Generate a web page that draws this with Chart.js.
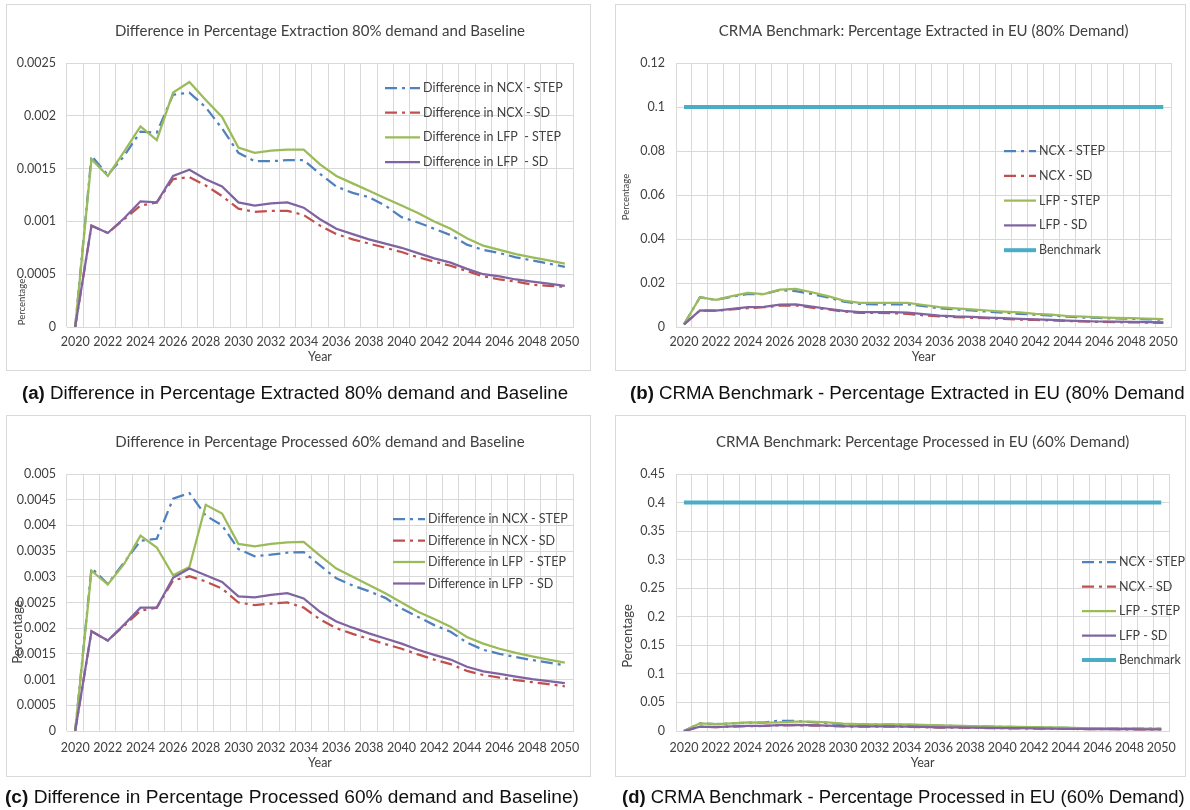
<!DOCTYPE html>
<html>
<head>
<meta charset="utf-8">
<script src="https://cdn.jsdelivr.net/npm/chart.js@4.4.0/dist/chart.umd.min.js"></script>
<style>
  body { margin: 0; background: #fff; width: 1190px; height: 810px; position: relative; overflow: hidden; }
  canvas { position: absolute; outline: 1px solid #d9d9d9; }
  .cap { position: absolute; font-family: "Liberation Sans", Arial, sans-serif; font-size: 18.7px; color: #111; white-space: nowrap; line-height: 22px; }
  .cap b { font-weight: bold; }
</style>
</head>
<body>
<canvas id="chartA" width="583" height="365" style="left:7px;top:5px"></canvas>
<canvas id="chartB" width="569" height="365" style="left:616px;top:5px"></canvas>
<canvas id="chartC" width="583" height="360" style="left:7px;top:416px"></canvas>
<canvas id="chartD" width="569" height="360" style="left:616px;top:416px"></canvas>
<div class="cap" style="left:22px;top:382px"><b>(a)</b> Difference in Percentage Extracted 80% demand and Baseline</div>
<div class="cap" style="left:630px;top:382px"><b>(b)</b> CRMA Benchmark - Percentage Extracted in EU (80% Demand</div>
<div class="cap" style="left:5px;top:786px;font-size:19.1px"><b>(c)</b> Difference in Percentage Processed 60% demand and Baseline)</div>
<div class="cap" style="left:622px;top:786px;font-size:18.45px"><b>(d)</b> CRMA Benchmark - Percentage Processed in EU (60% Demand)</div>
<script>
// years on the category axis
const years = ['2020','2021','2022','2023','2024','2025','2026','2027','2028','2029','2030',
  '2031','2032','2033','2034','2035','2036','2037','2038','2039','2040',
  '2041','2042','2043','2044','2045','2046','2047','2048','2049','2050'];

// (a) difference in percentage extracted, 80% demand vs baseline
const extDiffNcxStep = [0, 0.00162, 0.00144, 0.00162, 0.00185, 0.00184, 0.0022, 0.00222, 0.00208, 0.00188, 0.00165,
  0.00157, 0.00157, 0.00158, 0.00158, 0.00145, 0.00133, 0.00127, 0.00123, 0.00115, 0.00104,
  0.00099, 0.00093, 0.00087, 0.00078, 0.00073, 0.0007, 0.00066, 0.00063, 0.0006, 0.00057];
const extDiffNcxSd = [0, 0.00096, 0.00089, 0.00102, 0.00115, 0.00118, 0.0014, 0.00142, 0.00134, 0.00124, 0.00112,
  0.00109, 0.0011, 0.0011, 0.00106, 0.00096, 0.00088, 0.00083, 0.00079, 0.00075, 0.00071,
  0.00066, 0.00062, 0.00058, 0.00053, 0.00048, 0.00045, 0.00043, 0.0004, 0.00039, 0.00038];
const extDiffLfpStep = [0, 0.00159, 0.00143, 0.00166, 0.0019, 0.00177, 0.00222, 0.00232, 0.00215, 0.00199, 0.0017,
  0.00165, 0.00167, 0.00168, 0.00168, 0.00154, 0.00143, 0.00136, 0.00129, 0.00122, 0.00115,
  0.00108, 0.001, 0.00093, 0.00084, 0.00077, 0.00073, 0.00069, 0.00066, 0.00063, 0.0006];
const extDiffLfpSd = [0, 0.00096, 0.00089, 0.00103, 0.00119, 0.00118, 0.00143, 0.00149, 0.0014, 0.00133, 0.00118,
  0.00115, 0.00117, 0.00118, 0.00113, 0.00102, 0.00093, 0.00088, 0.00083, 0.00079, 0.00075,
  0.0007, 0.00065, 0.00061, 0.00055, 0.0005, 0.00048, 0.00045, 0.00043, 0.00041, 0.00039];

// (b) percentage extracted in EU, 80% demand
const extNcxStep = [0.0012, 0.0135, 0.0123, 0.0138, 0.015, 0.015, 0.0168, 0.0163, 0.015, 0.0135, 0.0115,
  0.0105, 0.0103, 0.0103, 0.0103, 0.0095, 0.0085, 0.008, 0.0075, 0.007, 0.0065,
  0.006, 0.0056, 0.0052, 0.0047, 0.0043, 0.0041, 0.0039, 0.0037, 0.0035, 0.0033];
const extNcxSd = [0.0012, 0.0075, 0.0074, 0.008, 0.0086, 0.009, 0.0097, 0.0098, 0.0088, 0.008, 0.007,
  0.0064, 0.0064, 0.0063, 0.006, 0.0053, 0.0048, 0.0045, 0.0042, 0.004, 0.0037,
  0.0034, 0.0032, 0.003, 0.0027, 0.0025, 0.0023, 0.0022, 0.0021, 0.002, 0.0019];
const extLfpStep = [0.0012, 0.0135, 0.0123, 0.014, 0.0155, 0.015, 0.017, 0.0173, 0.0158, 0.014, 0.012,
  0.011, 0.011, 0.011, 0.011, 0.01, 0.009, 0.0085, 0.008, 0.0075, 0.007,
  0.0066, 0.006, 0.0056, 0.005, 0.0047, 0.0044, 0.0042, 0.004, 0.0038, 0.0036];
const extLfpSd = [0.0012, 0.0075, 0.0074, 0.0082, 0.009, 0.0091, 0.0102, 0.0103, 0.0093, 0.0083, 0.0073,
  0.0068, 0.0068, 0.0068, 0.0065, 0.0058, 0.0052, 0.0048, 0.0046, 0.0043, 0.004,
  0.0037, 0.0035, 0.0032, 0.0029, 0.0027, 0.0025, 0.0024, 0.0023, 0.0022, 0.0021];
const extBenchmark = [0.1, 0.1, 0.1, 0.1, 0.1, 0.1, 0.1, 0.1, 0.1, 0.1, 0.1,
  0.1, 0.1, 0.1, 0.1, 0.1, 0.1, 0.1, 0.1, 0.1, 0.1,
  0.1, 0.1, 0.1, 0.1, 0.1, 0.1, 0.1, 0.1, 0.1, 0.1];

// (c) difference in percentage processed, 60% demand vs baseline
const procDiffNcxStep = [0, 0.00317, 0.00286, 0.00328, 0.0037, 0.00374, 0.00452, 0.00463, 0.00419, 0.004, 0.00354,
  0.0034, 0.00343, 0.00347, 0.00348, 0.00322, 0.00297, 0.00283, 0.00272, 0.00259, 0.00238,
  0.00222, 0.00206, 0.00193, 0.00172, 0.00158, 0.0015, 0.00144, 0.00138, 0.00133, 0.00128];
const procDiffNcxSd = [0, 0.00194, 0.00176, 0.00205, 0.00234, 0.0024, 0.00293, 0.00301, 0.00291, 0.00277, 0.0025,
  0.00245, 0.00248, 0.0025, 0.0024, 0.00217, 0.002, 0.00189, 0.00179, 0.00169, 0.0016,
  0.00149, 0.00139, 0.0013, 0.00117, 0.00109, 0.00104, 0.00099, 0.00095, 0.00091, 0.00087];
const procDiffLfpStep = [0, 0.00312, 0.00285, 0.00325, 0.0038, 0.00357, 0.00303, 0.00319, 0.0044, 0.00423, 0.00364,
  0.00359, 0.00364, 0.00367, 0.00368, 0.00341, 0.00316, 0.003, 0.00284, 0.00268, 0.0025,
  0.00232, 0.00218, 0.00203, 0.00183, 0.0017, 0.0016, 0.00152, 0.00145, 0.00139, 0.00133];
const procDiffLfpSd = [0, 0.00194, 0.00176, 0.00207, 0.0024, 0.0024, 0.00298, 0.00316, 0.00303, 0.0029, 0.00262,
  0.0026, 0.00265, 0.00268, 0.00258, 0.00232, 0.00213, 0.00201, 0.0019, 0.0018, 0.0017,
  0.00158, 0.00148, 0.00139, 0.00125, 0.00116, 0.00111, 0.00106, 0.00101, 0.00097, 0.00093];

// (d) percentage processed in EU, 60% demand
const procNcxStep = [0, 0.0135, 0.012, 0.0133, 0.0145, 0.0148, 0.018, 0.0175, 0.0155, 0.0142, 0.012,
  0.0112, 0.011, 0.011, 0.0109, 0.0101, 0.0093, 0.0088, 0.0083, 0.0078, 0.0072,
  0.0067, 0.0063, 0.0059, 0.0054, 0.005, 0.0047, 0.0045, 0.0043, 0.0041, 0.0039];
const procNcxSd = [0, 0.0075, 0.007, 0.0078, 0.0085, 0.0088, 0.01, 0.0101, 0.0096, 0.009, 0.008,
  0.0077, 0.0077, 0.0077, 0.0073, 0.0067, 0.0061, 0.0058, 0.0055, 0.0052, 0.0049,
  0.0046, 0.0043, 0.004, 0.0037, 0.0034, 0.0032, 0.0031, 0.0029, 0.0028, 0.0027];
const procLfpStep = [0, 0.0135, 0.012, 0.0135, 0.015, 0.0148, 0.0152, 0.0163, 0.0165, 0.015, 0.0128,
  0.012, 0.0118, 0.0118, 0.0117, 0.0108, 0.0098, 0.0092, 0.0087, 0.0082, 0.0077,
  0.0072, 0.0068, 0.0063, 0.0057, 0.0052, 0.005, 0.0047, 0.0045, 0.0043, 0.0041];
const procLfpSd = [0, 0.0075, 0.007, 0.008, 0.0088, 0.009, 0.0103, 0.0107, 0.0102, 0.0095, 0.0085,
  0.0082, 0.0082, 0.0082, 0.0078, 0.0071, 0.0065, 0.0062, 0.0058, 0.0055, 0.0052,
  0.0049, 0.0046, 0.0043, 0.0039, 0.0036, 0.0034, 0.0033, 0.0031, 0.003, 0.0029];
const procBenchmark = [0.4, 0.4, 0.4, 0.4, 0.4, 0.4, 0.4, 0.4, 0.4, 0.4, 0.4,
  0.4, 0.4, 0.4, 0.4, 0.4, 0.4, 0.4, 0.4, 0.4, 0.4,
  0.4, 0.4, 0.4, 0.4, 0.4, 0.4, 0.4, 0.4, 0.4, 0.4];

const FONT = 'Lato, "Open Sans", sans-serif';
const TEXT = '#404040';
const GRID = '#d9d9d9';

const ncxStepStyle = { borderColor: '#4F81BD', borderWidth: 2.25, borderDash: [12, 5, 3, 5] };
const ncxSdStyle = { borderColor: '#C0504D', borderWidth: 2.25, borderDash: [12, 5, 3, 5] };
const lfpStepStyle = { borderColor: '#9BBB59', borderWidth: 2.25 };
const lfpSdStyle = { borderColor: '#8064A2', borderWidth: 2.25 };
const benchStyle = { borderColor: '#4BACC6', borderWidth: 4 };

function line(label, data, style, i) {
  // later series on top, like the spreadsheet
  return Object.assign({ label: label, data: data, pointRadius: 0, tension: 0, fill: false, order: 10 - i }, style);
}

// legend floating inside the plot
const floatLegend = {
  id: 'floatLegend',
  afterDraw(chart, args, o) {
    const ctx = chart.ctx;
    ctx.save();
    ctx.font = o.size + 'px ' + FONT;
    ctx.textBaseline = 'middle';
    chart.data.datasets.forEach((ds, i) => {
      const y = o.y + i * o.step;
      ctx.strokeStyle = ds.borderColor;
      ctx.lineWidth = ds.borderWidth;
      ctx.setLineDash(ds.borderDash || []);
      ctx.beginPath();
      ctx.moveTo(o.x, y);
      ctx.lineTo(o.x + o.len, y);
      ctx.stroke();
      ctx.setLineDash([]);
      ctx.fillStyle = TEXT;
      ctx.fillText(ds.label, o.x + o.len + 3, y);
    });
    ctx.restore();
  }
};

// rotated y axis title, placed where the original has it
const sideTitle = {
  id: 'sideTitle',
  afterDraw(chart, args, o) {
    const ctx = chart.ctx;
    ctx.save();
    ctx.translate(o.x, o.y);
    ctx.rotate(-Math.PI / 2);
    ctx.font = o.size + 'px ' + FONT;
    ctx.fillStyle = TEXT;
    ctx.textAlign = 'center';
    ctx.textBaseline = 'middle';
    ctx.fillText('Percentage', 0, 0);
    ctx.restore();
  }
};

function makeChart(id, c) {
  return new Chart(document.getElementById(id), {
    type: 'line',
    data: { labels: years, datasets: c.datasets },
    plugins: [floatLegend, sideTitle],
    options: {
      responsive: false,
      animation: false,
      layout: { padding: { left: 0, top: 0, right: c.right, bottom: 6 } },
      plugins: {
        legend: { display: false },
        tooltip: { enabled: false },
        title: {
          display: true, text: c.title, fullSize: false, color: TEXT,
          font: { family: FONT, size: 15, weight: 'normal' },
          padding: { top: 17, bottom: 23 }
        },
        floatLegend: c.legend,
        sideTitle: c.yTitle
      },
      scales: {
        x: {
          offset: true,
          grid: { offset: true, color: GRID, drawTicks: false },
          border: { color: GRID },
          ticks: {
            autoSkip: false, maxRotation: 0, padding: c.xPad, color: TEXT,
            font: { family: FONT, size: 12.5 },
            callback: (v, i) => (i % 2 === 0 ? years[i] : '')
          },
          title: { display: true, text: 'Year', color: TEXT, font: { family: FONT, size: 12.5 }, padding: 0 },
          afterFit: s => { s.height = c.xHeight; }
        },
        y: {
          min: 0, max: c.yMax,
          grid: { color: GRID, drawTicks: false },
          border: { display: false },
          ticks: {
            stepSize: c.yStep, padding: 11, color: TEXT,
            font: { family: FONT, size: 12.5 },
            callback: v => String(+v.toFixed(6))
          },
          afterFit: s => { s.width = 60; }
        }
      }
    }
  });
}

makeChart('chartA', {
  title: 'Difference in Percentage Extraction 80% demand and Baseline',
  datasets: [
    line('Difference in NCX - STEP', extDiffNcxStep, ncxStepStyle, 0),
    line('Difference in NCX - SD', extDiffNcxSd, ncxSdStyle, 1),
    line('Difference in LFP  - STEP', extDiffLfpStep, lfpStepStyle, 2),
    line('Difference in LFP  - SD', extDiffLfpSd, lfpSdStyle, 3)
  ],
  yMax: 0.0025, yStep: 0.0005, right: 17, xHeight: 37, xPad: 7,
  legend: { x: 378, y: 83, step: 24.7, len: 35, size: 12.5 },
  yTitle: { x: 15, y: 297, size: 9.5 }
});

makeChart('chartB', {
  title: 'CRMA Benchmark: Percentage Extracted in EU (80% Demand)',
  datasets: [
    line('NCX - STEP', extNcxStep, ncxStepStyle, 0),
    line('NCX - SD', extNcxSd, ncxSdStyle, 1),
    line('LFP - STEP', extLfpStep, lfpStepStyle, 2),
    line('LFP - SD', extLfpSd, lfpSdStyle, 3),
    line('Benchmark', extBenchmark, benchStyle, 4)
  ],
  yMax: 0.12, yStep: 0.02, right: 12, xHeight: 37, xPad: 7,
  legend: { x: 388, y: 146, step: 24.8, len: 32, size: 12.5 },
  yTitle: { x: 10, y: 192, size: 9.5 }
});

makeChart('chartC', {
  title: 'Difference in Percentage Processed 60% demand and Baseline',
  datasets: [
    line('Difference in NCX - STEP', procDiffNcxStep, ncxStepStyle, 0),
    line('Difference in NCX - SD', procDiffNcxSd, ncxSdStyle, 1),
    line('Difference in LFP  - STEP', procDiffLfpStep, lfpStepStyle, 2),
    line('Difference in LFP  - SD', procDiffLfpSd, lfpSdStyle, 3)
  ],
  yMax: 0.005, yStep: 0.0005, right: 17, xHeight: 39, xPad: 9,
  legend: { x: 386, y: 103, step: 21.5, len: 32, size: 12.5 },
  yTitle: { x: 11, y: 216, size: 13 }
});

makeChart('chartD', {
  title: 'CRMA Benchmark: Percentage Processed in EU (60% Demand)',
  datasets: [
    line('NCX - STEP', procNcxStep, ncxStepStyle, 0),
    line('NCX - SD', procNcxSd, ncxSdStyle, 1),
    line('LFP - STEP', procLfpStep, lfpStepStyle, 2),
    line('LFP - SD', procLfpSd, lfpSdStyle, 3),
    line('Benchmark', procBenchmark, benchStyle, 4)
  ],
  yMax: 0.45, yStep: 0.05, right: 12, xHeight: 39, xPad: 9,
  legend: { x: 466, y: 146, step: 24.5, len: 34, size: 12.5 },
  yTitle: { x: 12, y: 220, size: 13 }
});
</script>
</body>
</html>
